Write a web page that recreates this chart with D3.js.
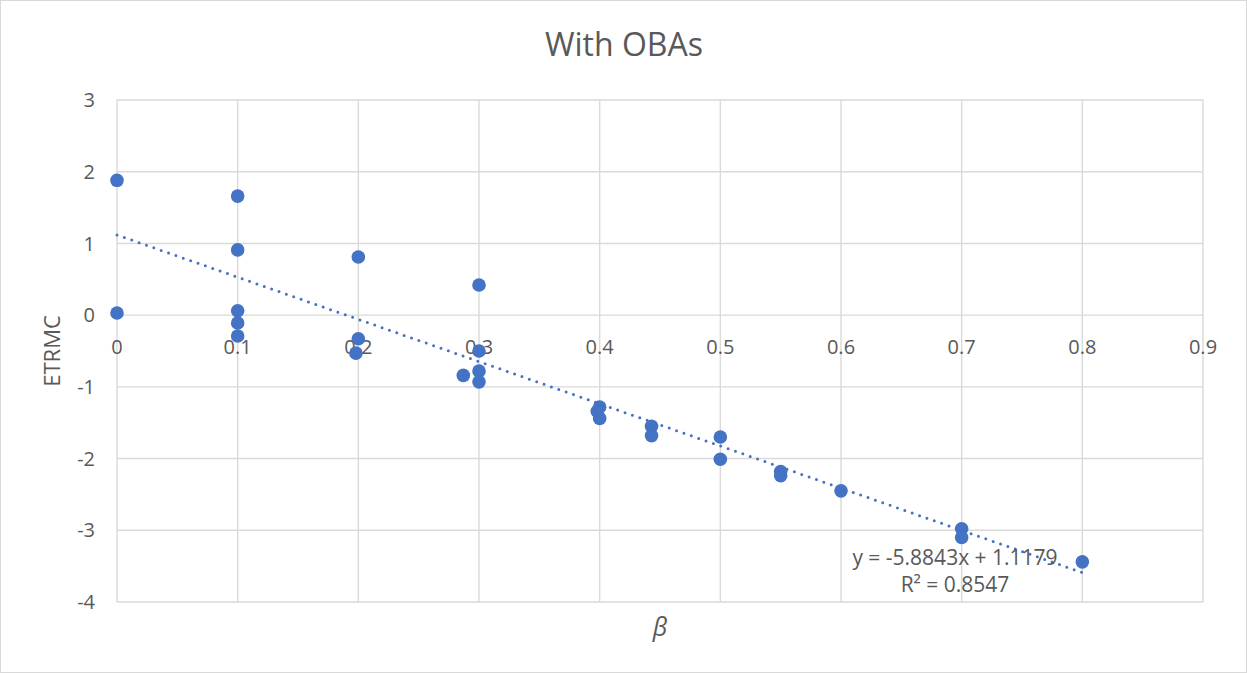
<!DOCTYPE html>
<html>
<head>
<meta charset="utf-8">
<script src="https://cdn.jsdelivr.net/npm/d3@7"></script>
<style>
  body { margin: 0; background: #fff; }
  text { font-family: "Open Sans", "Noto Sans", sans-serif; fill: #595959; }
</style>
</head>
<body>
<svg id="chart"></svg>
<script>
const WIDTH = 1247;
const HEIGHT = 673;

// beta values and ETRMC
const betaValues = [0, 0, 0.1, 0.1, 0.1, 0.1, 0.1, 0.2, 0.2, 0.198,
    0.3, 0.3, 0.3, 0.3, 0.287, 0.4, 0.398, 0.4, 0.443, 0.443,
    0.5, 0.5, 0.55, 0.55, 0.6, 0.7, 0.7, 0.8];
const etrmcValues = [1.88, 0.03, 1.66, 0.91, 0.06, -0.11, -0.29, 0.81, -0.33, -0.53,
    0.42, -0.50, -0.78, -0.93, -0.84, -1.28, -1.34, -1.44, -1.55, -1.68,
    -1.70, -2.01, -2.18, -2.24, -2.45, -2.98, -3.10, -3.44];

const xTicks = [0, 0.1, 0.2, 0.3, 0.4, 0.5, 0.6, 0.7, 0.8, 0.9];
const yTicks = [3, 2, 1, 0, -1, -2, -3, -4];

// linear trendline as printed on the chart
const slope = -5.8843;
const intercept = 1.1179;
const rSquared = 0.8547;
const trendRange = [0, 0.8];

const svg = d3.select('#chart')
    .attr('width', WIDTH)
    .attr('height', HEIGHT);

// outer chart border
svg.append('rect')
    .attr('x', 0.5).attr('y', 0.5)
    .attr('width', WIDTH - 1).attr('height', HEIGHT - 1)
    .attr('fill', '#fff')
    .attr('stroke', '#d9d9d9');

const x = d3.scaleLinear().domain([0, 0.9]).range([117, 1203]);
const y = d3.scaleLinear().domain([-4, 3]).range([602, 100]);

// gridlines
svg.append('g')
    .attr('class', 'grid')
    .selectAll('line.v')
    .data(xTicks)
    .enter().append('line')
    .attr('x1', d => x(d)).attr('x2', d => x(d))
    .attr('y1', y(3)).attr('y2', y(-4))
    .attr('stroke', '#d9d9d9')
    .attr('stroke-width', 1.4);

svg.append('g')
    .attr('class', 'grid')
    .selectAll('line.h')
    .data(yTicks)
    .enter().append('line')
    .attr('x1', x(0)).attr('x2', x(0.9))
    .attr('y1', d => y(d)).attr('y2', d => y(d))
    .attr('stroke', '#d9d9d9')
    .attr('stroke-width', 1.4);

// tick labels - x axis crosses at y = 0
svg.append('g')
    .selectAll('text')
    .data(xTicks)
    .enter().append('text')
    .attr('x', d => x(d))
    .attr('y', y(0) + 39)
    .attr('text-anchor', 'middle')
    .style('font-size', '20px')
    .text(d => d3.format('')(d));

svg.append('g')
    .selectAll('text')
    .data(yTicks)
    .enter().append('text')
    .attr('x', 95)
    .attr('y', d => y(d))
    .attr('dy', '0.36em')
    .attr('text-anchor', 'end')
    .style('font-size', '20px')
    .text(d => d);

// points
svg.append('g')
    .selectAll('circle')
    .data(betaValues.map((b, i) => [b, etrmcValues[i]]))
    .enter().append('circle')
    .attr('cx', d => x(d[0]))
    .attr('cy', d => y(d[1]))
    .attr('r', 6.8)
    .attr('fill', '#4472c4');

// dotted trendline
const line = d3.line()
    .x(d => x(d))
    .y(d => y(slope * d + intercept));

svg.append('path')
    .datum(trendRange)
    .attr('d', line)
    .attr('fill', 'none')
    .attr('stroke', '#4472c4')
    .attr('stroke-width', 3)
    .attr('stroke-linecap', 'round')
    .attr('stroke-dasharray', '0 7.8');

// trendline label
svg.append('text')
    .attr('x', 955).attr('y', 565)
    .attr('text-anchor', 'middle')
    .style('font-size', '21px')
    .text(`y = ${slope}x + ${intercept}`);

svg.append('text')
    .attr('x', 955).attr('y', 592)
    .attr('text-anchor', 'middle')
    .style('font-size', '21px')
    .text(`R² = ${rSquared}`);

// titles
svg.append('text')
    .attr('x', 624).attr('y', 56)
    .attr('text-anchor', 'middle')
    .style('font-size', '32px')
    .text('With OBAs');

svg.append('text')
    .attr('transform', 'translate(60, 351) rotate(-90)')
    .attr('text-anchor', 'middle')
    .style('font-size', '22px')
    .text('ETRMC');

svg.append('text')
    .attr('x', 660).attr('y', 636)
    .attr('text-anchor', 'middle')
    .style('font-size', '25px')
    .style('font-style', 'italic')
    .text('β');
</script>
</body>
</html>
